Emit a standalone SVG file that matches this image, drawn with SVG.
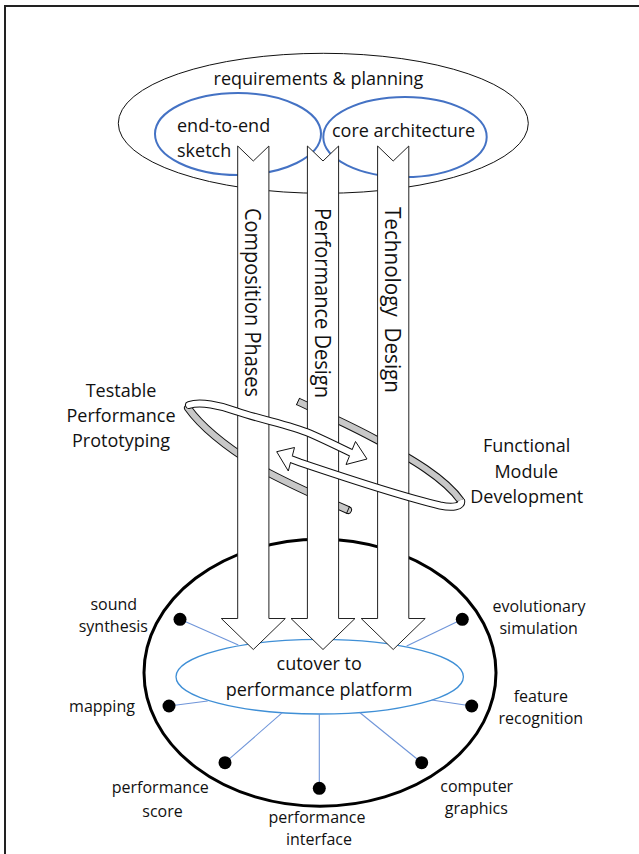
<svg xmlns="http://www.w3.org/2000/svg" width="639" height="854" viewBox="0 0 639 854">
<style>
.t{font-family:"Open Sans","Liberation Sans",sans-serif;fill:#111}
.f18{font-size:18px}.f16{font-size:16px}.f21{font-size:21px}
.mid{text-anchor:middle}
.arrow{fill:#fff;stroke:#222;stroke-width:1}
.dot{fill:#000}
.conn{stroke:#6f95d9;stroke-width:1.1;fill:none}
.blue{fill:none;stroke:#4472c4;stroke-width:2}
.rbo{fill:none;stroke:#111;stroke-width:8}
.rbw{fill:none;stroke:#fff;stroke-width:6}
.rbg{fill:none;stroke:#c8c8c8;stroke-width:6}
.head{fill:#fff;stroke:#111;stroke-width:1;stroke-linejoin:miter}
.cut{stroke:#111;stroke-width:1}
</style>
<rect x="0" y="0" width="639" height="854" fill="#fff"/>
<rect x="5" y="6" width="700" height="900" fill="none" stroke="#222" stroke-width="2"/>

<g id="requirements-planning">
<ellipse cx="323.3" cy="123.3" rx="205" ry="70" fill="none" stroke="#111" stroke-width="1"/>
<text class="t f18 mid" x="318.5" y="85">requirements &amp; planning</text>
</g>
<g id="end-to-end-sketch">
<ellipse class="blue" cx="238" cy="134" rx="83" ry="41"/>
<text class="t f18" x="177" y="132">end-to-end</text>
<text class="t f18" x="177" y="157">sketch</text>
</g>
<g id="core-architecture">
<ellipse class="blue" cx="405" cy="137" rx="81.7" ry="40"/>
<text class="t f18" x="332" y="137">core architecture</text>
</g>

<g id="performance-platform">
<ellipse cx="320" cy="672.7" rx="176" ry="133.5" fill="none" stroke="#000" stroke-width="3"/>
<ellipse cx="319.7" cy="676.7" rx="143.7" ry="37.3" fill="none" stroke="#3f8fd6" stroke-width="1.3"/>
<text class="t f18 mid" x="319.2" y="670">cutover to</text>
<text class="t f18 mid" x="319" y="695.7">performance platform</text>
</g>

<g id="connectors">
<line class="conn" x1="180" y1="619.3" x2="238.3" y2="645"/>
<line class="conn" x1="169" y1="706" x2="207.7" y2="701"/>
<line class="conn" x1="225" y1="762.7" x2="282.3" y2="712.7"/>
<line class="conn" x1="319.3" y1="788.3" x2="319.3" y2="714"/>
<line class="conn" x1="421.7" y1="762.7" x2="360" y2="712.7"/>
<line class="conn" x1="471.7" y1="706" x2="431.7" y2="700"/>
<line class="conn" x1="462.3" y1="619.3" x2="406.7" y2="646"/>
</g>

<g id="sound-synthesis">
<circle class="dot" cx="180" cy="619.3" r="6.5"/>
<text class="t f16 mid" x="113.8" y="610">sound</text>
<text class="t f16 mid" x="113.3" y="631.7">synthesis</text>
</g>
<g id="mapping">
<circle class="dot" cx="169" cy="706" r="6.5"/>
<text class="t f16 mid" x="102" y="712">mapping</text>
</g>
<g id="performance-score">
<circle class="dot" cx="225" cy="762.7" r="6.5"/>
<text class="t f16 mid" x="160.3" y="793.3">performance</text>
<text class="t f16 mid" x="162.5" y="816.7">score</text>
</g>
<g id="performance-interface">
<circle class="dot" cx="319.3" cy="788.3" r="6.5"/>
<text class="t f16 mid" x="317" y="822.7">performance</text>
<text class="t f16 mid" x="319" y="845">interface</text>
</g>
<g id="computer-graphics">
<circle class="dot" cx="421.7" cy="762.7" r="6.5"/>
<text class="t f16 mid" x="476.7" y="791.7">computer</text>
<text class="t f16 mid" x="476.3" y="814">graphics</text>
</g>
<g id="feature-recognition">
<circle class="dot" cx="471.7" cy="706" r="6.5"/>
<text class="t f16 mid" x="540.8" y="701.7">feature</text>
<text class="t f16 mid" x="540.8" y="724">recognition</text>
</g>
<g id="evolutionary-simulation">
<circle class="dot" cx="462.3" cy="619.3" r="6.5"/>
<text class="t f16 mid" x="539" y="611.7">evolutionary</text>
<text class="t f16 mid" x="538.7" y="634">simulation</text>
</g>

<g id="ring-back">
<path class="rbo" d="M 188,408 C 205,432 240,456 268,472.5 C 288,483 325,500 348,510" stroke-linecap="round"/>
<path class="rbg" d="M 188,408 C 205,432 240,456 268,472.5 C 288,483 325,500 348,510" stroke-linecap="round"/>
<line class="cut" x1="346.4" y1="513.7" x2="349.6" y2="506.3"/>
<path class="rbo" d="M 298,401.5 C 320,412 350,425 377,440 C 410,458 445,478 461,501"/>
<path class="rbg" d="M 298,401.5 C 320,412 350,425 377,440 C 410,458 445,478 461,501"/>
<line class="cut" x1="299.7" y1="397.9" x2="296.3" y2="405.1"/>
</g>

<g id="composition-phases">
<polygon class="arrow" points="237.7,146 253.3,161 268.9,146 268.9,618.5 285.3,618.5 253.3,649.5 221.3,618.5 237.7,618.5"/>
<text class="t f21" transform="translate(245,208) rotate(90)" textLength="189" lengthAdjust="spacingAndGlyphs">Composition Phases</text>
</g>
<g id="performance-design">
<polygon class="arrow" points="307.4,146 323,161 338.6,146 338.6,618.5 355,618.5 323,649.5 291,618.5 307.4,618.5"/>
<text class="t f21" transform="translate(314.6,208) rotate(90)" textLength="190" lengthAdjust="spacingAndGlyphs">Performance Design</text>
</g>
<g id="technology-design">
<polygon class="arrow" points="377.6,146 393.2,161 408.8,146 408.8,618.5 425.2,618.5 393.2,649.5 361.2,618.5 377.6,618.5"/>
<text class="t f21" transform="translate(385,207) rotate(90)" xml:space="preserve" style="white-space:pre" textLength="186" lengthAdjust="spacingAndGlyphs">Technology  Design</text>
</g>

<g id="ring-front">
<path class="rbo" d="M 189,405 C 200,401.5 220,405 237,411.5 C 262,420 290,425 310,433.5 C 326,440.5 340,447.5 352,453.3" stroke-linecap="round"/>
<polygon class="head" points="355.5,441.5 367,459 346,464.5 349.3,456.5 352.2,449.5"/>
<path class="rbw" d="M 189,405 C 200,401.5 220,405 237,411.5 C 262,420 290,425 310,433.5 C 326,440.5 340,447.5 352,453.3" stroke-linecap="round"/>
<path class="rbo" d="M 461,500 C 463,507 452,508 440,505.5 C 400,496 340,476 300,462.5 L 290,458.8"/>
<polygon class="head" points="294.5,447.5 276.7,451.7 288.3,471 290.4,462.9 292.4,455.6"/>
<path class="rbw" d="M 461,500 C 463,507 452,508 440,505.5 C 400,496 340,476 300,462.5 L 290,458.8"/>
</g>

<g id="testable-performance-prototyping">
<text class="t f18 mid" x="121" y="397.3">Testable</text>
<text class="t f18 mid" x="121" y="422.3">Performance</text>
<text class="t f18 mid" x="121" y="447">Prototyping</text>
</g>
<g id="functional-module-development">
<text class="t f18 mid" x="526.7" y="451.7">Functional</text>
<text class="t f18 mid" x="526.3" y="478.3">Module</text>
<text class="t f18 mid" x="526.7" y="503.3">Development</text>
</g>
</svg>
